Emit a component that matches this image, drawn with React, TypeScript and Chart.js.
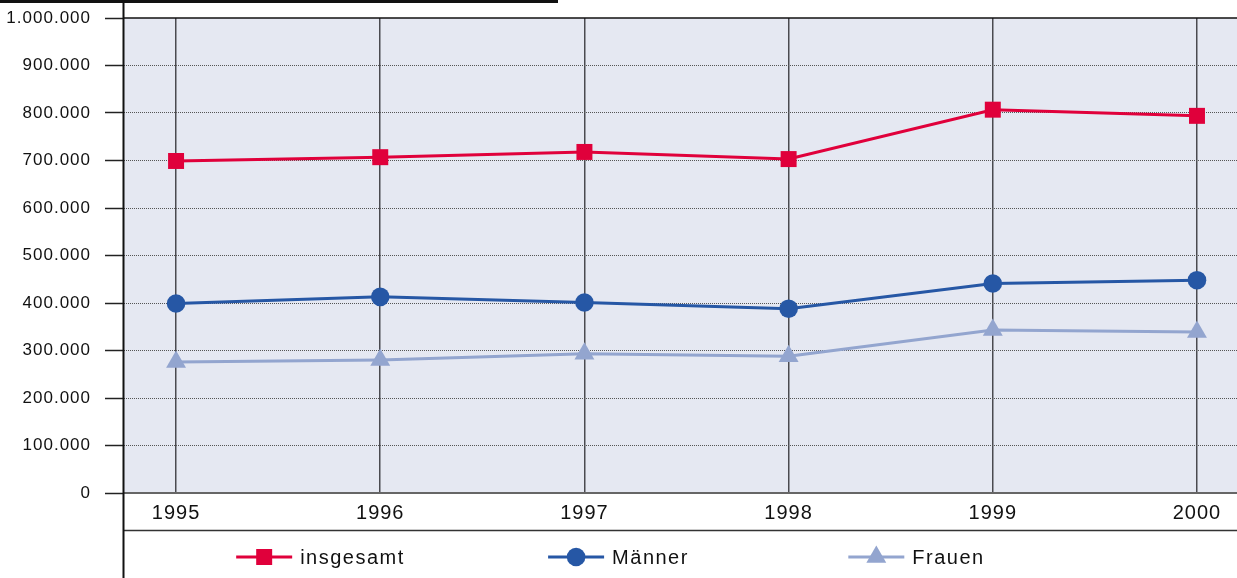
import React, { useEffect, useRef } from "react";
import { Chart, registerables } from "chart.js";

Chart.register(...registerables);

const years = [1995, 1996, 1997, 1998, 1999, 2000];
const insgesamt = [699000, 707000, 718000, 703000, 807000, 794000];
const maenner = [399000, 413000, 401000, 388000, 441000, 448000];
const frauen = [276000, 280000, 293000, 288000, 343000, 339000];
const seriesLabels = ["insgesamt", "Männer", "Frauen"];
const seriesColors = ["#e0003b", "#2657a5", "#93a5cf"];

const FONT = '"Liberation Sans", Arial, Helvetica, sans-serif';

function formatDE(v: number): string {
  return String(Math.round(v)).replace(/\B(?=(\d{3})+(?!\d))/g, ".");
}

function drawMarker(ctx: CanvasRenderingContext2D, style: string, x: number, y: number, r: number, color: string) {
  ctx.fillStyle = color;
  ctx.beginPath();
  if (style === "rect") {
    const s = Math.SQRT1_2 * r;
    ctx.rect(x - s, y - s, 2 * s, 2 * s);
  } else if (style === "triangle") {
    let rad = 0;
    ctx.moveTo(x + Math.sin(rad) * r, y - Math.cos(rad) * r);
    rad += (2 * Math.PI) / 3;
    ctx.lineTo(x + Math.sin(rad) * r, y - Math.cos(rad) * r);
    rad += (2 * Math.PI) / 3;
    ctx.lineTo(x + Math.sin(rad) * r, y - Math.cos(rad) * r);
    ctx.closePath();
  } else {
    ctx.arc(x, y, r, 0, Math.PI * 2);
  }
  ctx.fill();
}

const decorPlugin = {
  id: "decor",
  beforeDraw(chart: any) {
    const ctx = chart.ctx as CanvasRenderingContext2D;
    (ctx as any).letterSpacing = "1px";
    const a = chart.chartArea;
    ctx.save();
    ctx.fillStyle = "#e5e8f2";
    ctx.fillRect(a.left, a.top, a.right - a.left, a.bottom - a.top);
    ctx.restore();
  },
  afterDraw(chart: any) {
    const ctx = chart.ctx as CanvasRenderingContext2D;
    const a = chart.chartArea;
    const W = chart.width;
    const H = chart.height;
    ctx.save();
    // box edge at top left
    ctx.fillStyle = "#111";
    ctx.fillRect(0, 0, 558, 3);
    // plot top frame
    ctx.strokeStyle = "#111";
    ctx.lineWidth = 1.5;
    ctx.beginPath();
    ctx.moveTo(a.left - 1, a.top);
    ctx.lineTo(a.right, a.top);
    ctx.stroke();
    // band line under x labels
    ctx.strokeStyle = "#333";
    ctx.lineWidth = 1.5;
    ctx.beginPath();
    ctx.moveTo(a.left - 1, 530.5);
    ctx.lineTo(W, 530.5);
    ctx.stroke();
    // left axis line
    ctx.strokeStyle = "#111";
    ctx.lineWidth = 2;
    ctx.beginPath();
    ctx.moveTo(a.left - 0.5, 0);
    ctx.lineTo(a.left - 0.5, H);
    ctx.stroke();

    // legend
    const ly = 557;
    ctx.font = "20px " + FONT;
    (ctx as any).letterSpacing = "1.5px";
    ctx.textBaseline = "middle";
    ctx.textAlign = "left";
    chart.data.datasets.forEach((ds: any, i: number) => {
      const tw = ctx.measureText(ds.label).width;
      const lineLen = 56;
      const gap = 8;
      const itemW = lineLen + gap + tw;
      const cx = W / 2 + (i - 1) * 298;
      const left = cx - itemW / 2;
      ctx.strokeStyle = ds.borderColor;
      ctx.lineWidth = 3;
      ctx.beginPath();
      ctx.moveTo(left, ly);
      ctx.lineTo(left + lineLen, ly);
      ctx.stroke();
      drawMarker(ctx, ds.pointStyle, left + lineLen / 2, ly, ds.pointRadius, ds.backgroundColor);
      ctx.fillStyle = "#111";
      ctx.fillText(ds.label, left + lineLen + gap, ly + 1);
    });
    ctx.restore();
  },
};

export default function App() {
  const ref = useRef<HTMLCanvasElement | null>(null);

  useEffect(() => {
    if (!ref.current) return;
    const mk = (vals: number[]) => years.map((x, i) => ({ x, y: vals[i] }));
    const styles = ["rect", "circle", "triangle"];
    const radii = [11.3, 9.3, 11.5];
    const allVals = [insgesamt, maenner, frauen];
    const chart = new Chart(ref.current, {
      type: "line",
      data: {
        datasets: allVals.map((vals, i) => ({
          label: seriesLabels[i],
          data: mk(vals),
          borderColor: seriesColors[i],
          backgroundColor: seriesColors[i],
          pointBackgroundColor: seriesColors[i],
          pointBorderWidth: 0,
          pointStyle: styles[i],
          pointRadius: radii[i],
          pointHoverRadius: radii[i],
          borderWidth: 3,
          tension: 0,
          fill: false,
          clip: false,
        })),
      },
      options: {
        responsive: false,
        animation: false,
        events: [],
        layout: { autoPadding: false, padding: { top: 18, left: 0, right: 0, bottom: 0 } },
        plugins: {
          legend: { display: false },
          tooltip: { enabled: false },
        },
        scales: {
          x: {
            type: "linear",
            min: 1994.745,
            max: 2000.196,
            afterBuildTicks: (scale: any) => {
              scale.ticks = years.map((v) => ({ value: v }));
            },
            afterFit: (scale: any) => {
              scale.height = 85;
              scale.paddingLeft = 0;
              scale.paddingRight = 0;
            },
            grid: {
              color: "#4a4a50",
              lineWidth: 1.5,
              drawTicks: false,
            },
            border: { display: true, color: "#666", width: 2 },
            ticks: {
              padding: 8,
              maxRotation: 0,
              minRotation: 0,
              autoSkip: false,
              color: "#111",
              font: { family: FONT, size: 20 },
              callback: (v: any) => String(v),
            },
          },
          y: {
            min: 0,
            max: 1000000,
            afterFit: (scale: any) => {
              scale.width = 124;
              scale.paddingTop = 0;
              scale.paddingBottom = 0;
            },
            grid: {
              color: (c: any) =>
                c.tick && (c.tick.value === 0 || c.tick.value === 1000000) ? "rgba(0,0,0,0)" : "#555",
              lineWidth: 1,
              tickLength: 19,
              tickColor: "#222",
              tickWidth: 1.5,
              tickBorderDash: [],
            },
            border: { display: false, dash: [1, 1] },
            ticks: {
              stepSize: 100000,
              padding: 14,
              color: "#111",
              font: { family: FONT, size: 17 },
              callback: (v: any) => formatDE(Number(v)),
            },
          },
        },
      },
      plugins: [decorPlugin],
    } as any);
    return () => chart.destroy();
  }, []);

  return (
    <div style={{ position: "absolute", left: 0, top: 0, width: 1237, height: 578, background: "#fff" }}>
      <canvas ref={ref} width={1237} height={578} style={{ display: "block" }} />
    </div>
  );
}
